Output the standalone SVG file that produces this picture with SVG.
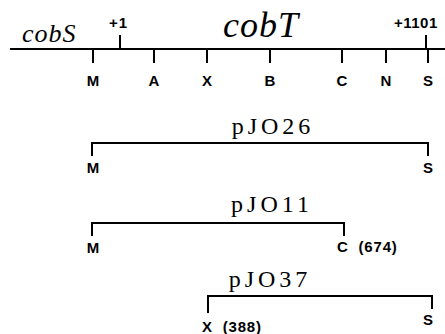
<svg xmlns="http://www.w3.org/2000/svg" width="445" height="334" viewBox="0 0 445 334">
<style>
.ln{stroke:#000;fill:none;stroke-width:2}
.lb{font-family:"Liberation Sans",Arial,sans-serif;font-weight:bold;font-size:15px;fill:#000}
.nm{font-family:"Liberation Sans",Arial,sans-serif;font-weight:bold;font-size:15px;letter-spacing:0.8px;fill:#000}
.gn{font-family:"Liberation Serif","Times New Roman",serif;font-style:italic;fill:#000}
.pl{font-family:"Liberation Serif","Times New Roman",serif;font-size:24px;letter-spacing:4px;fill:#000;text-anchor:middle}
</style>
<rect width="445" height="334" fill="#fff"/>
<g id="map">
<path class="ln" d="M10 49H445" stroke-width="2.6"/>
<path class="ln" d="M120 35V49M426 35V49M93 49V63M154 49V63M207 49V63M270 49V63M342 49V63M386 49V63M428 49V63"/>
<text class="gn" x="22" y="42" font-size="26" letter-spacing="1">cobS</text>
<text class="gn" x="223" y="37" font-size="36" letter-spacing="1">cobT</text>
<text class="lb" x="109" y="28" font-size="14" letter-spacing="1">+1</text>
<text class="lb" x="394" y="28" font-size="14" letter-spacing="0.5">+1101</text>
<g class="lb" text-anchor="middle">
<text x="93" y="86">M</text><text x="154" y="86">A</text><text x="207" y="86">X</text><text x="270" y="86">B</text><text x="342" y="86">C</text><text x="386" y="86">N</text><text x="428" y="86">S</text>
</g>
</g>
<g id="pJO26">
<text class="pl" x="273" y="134">pJO26</text>
<path class="ln" d="M92 156V143H428V156"/>
<text class="lb" x="93" y="173" text-anchor="middle">M</text>
<text class="lb" x="428" y="173" text-anchor="middle">S</text>
</g>
<g id="pJO11">
<text class="pl" x="272" y="212">pJO11</text>
<path class="ln" d="M92 236V223H344V236"/>
<text class="lb" x="93" y="253" text-anchor="middle">M</text>
<text class="nm" x="337" y="252" xml:space="preserve">C  (674)</text>
</g>
<g id="pJO37">
<text class="pl" x="270" y="287">pJO37</text>
<path class="ln" d="M208 313V296H432V309" stroke-width="2.6"/>
<text class="nm" x="202" y="332" xml:space="preserve">X  (388)</text>
<text class="lb" x="428" y="325" text-anchor="middle">S</text>
</g>
</svg>
